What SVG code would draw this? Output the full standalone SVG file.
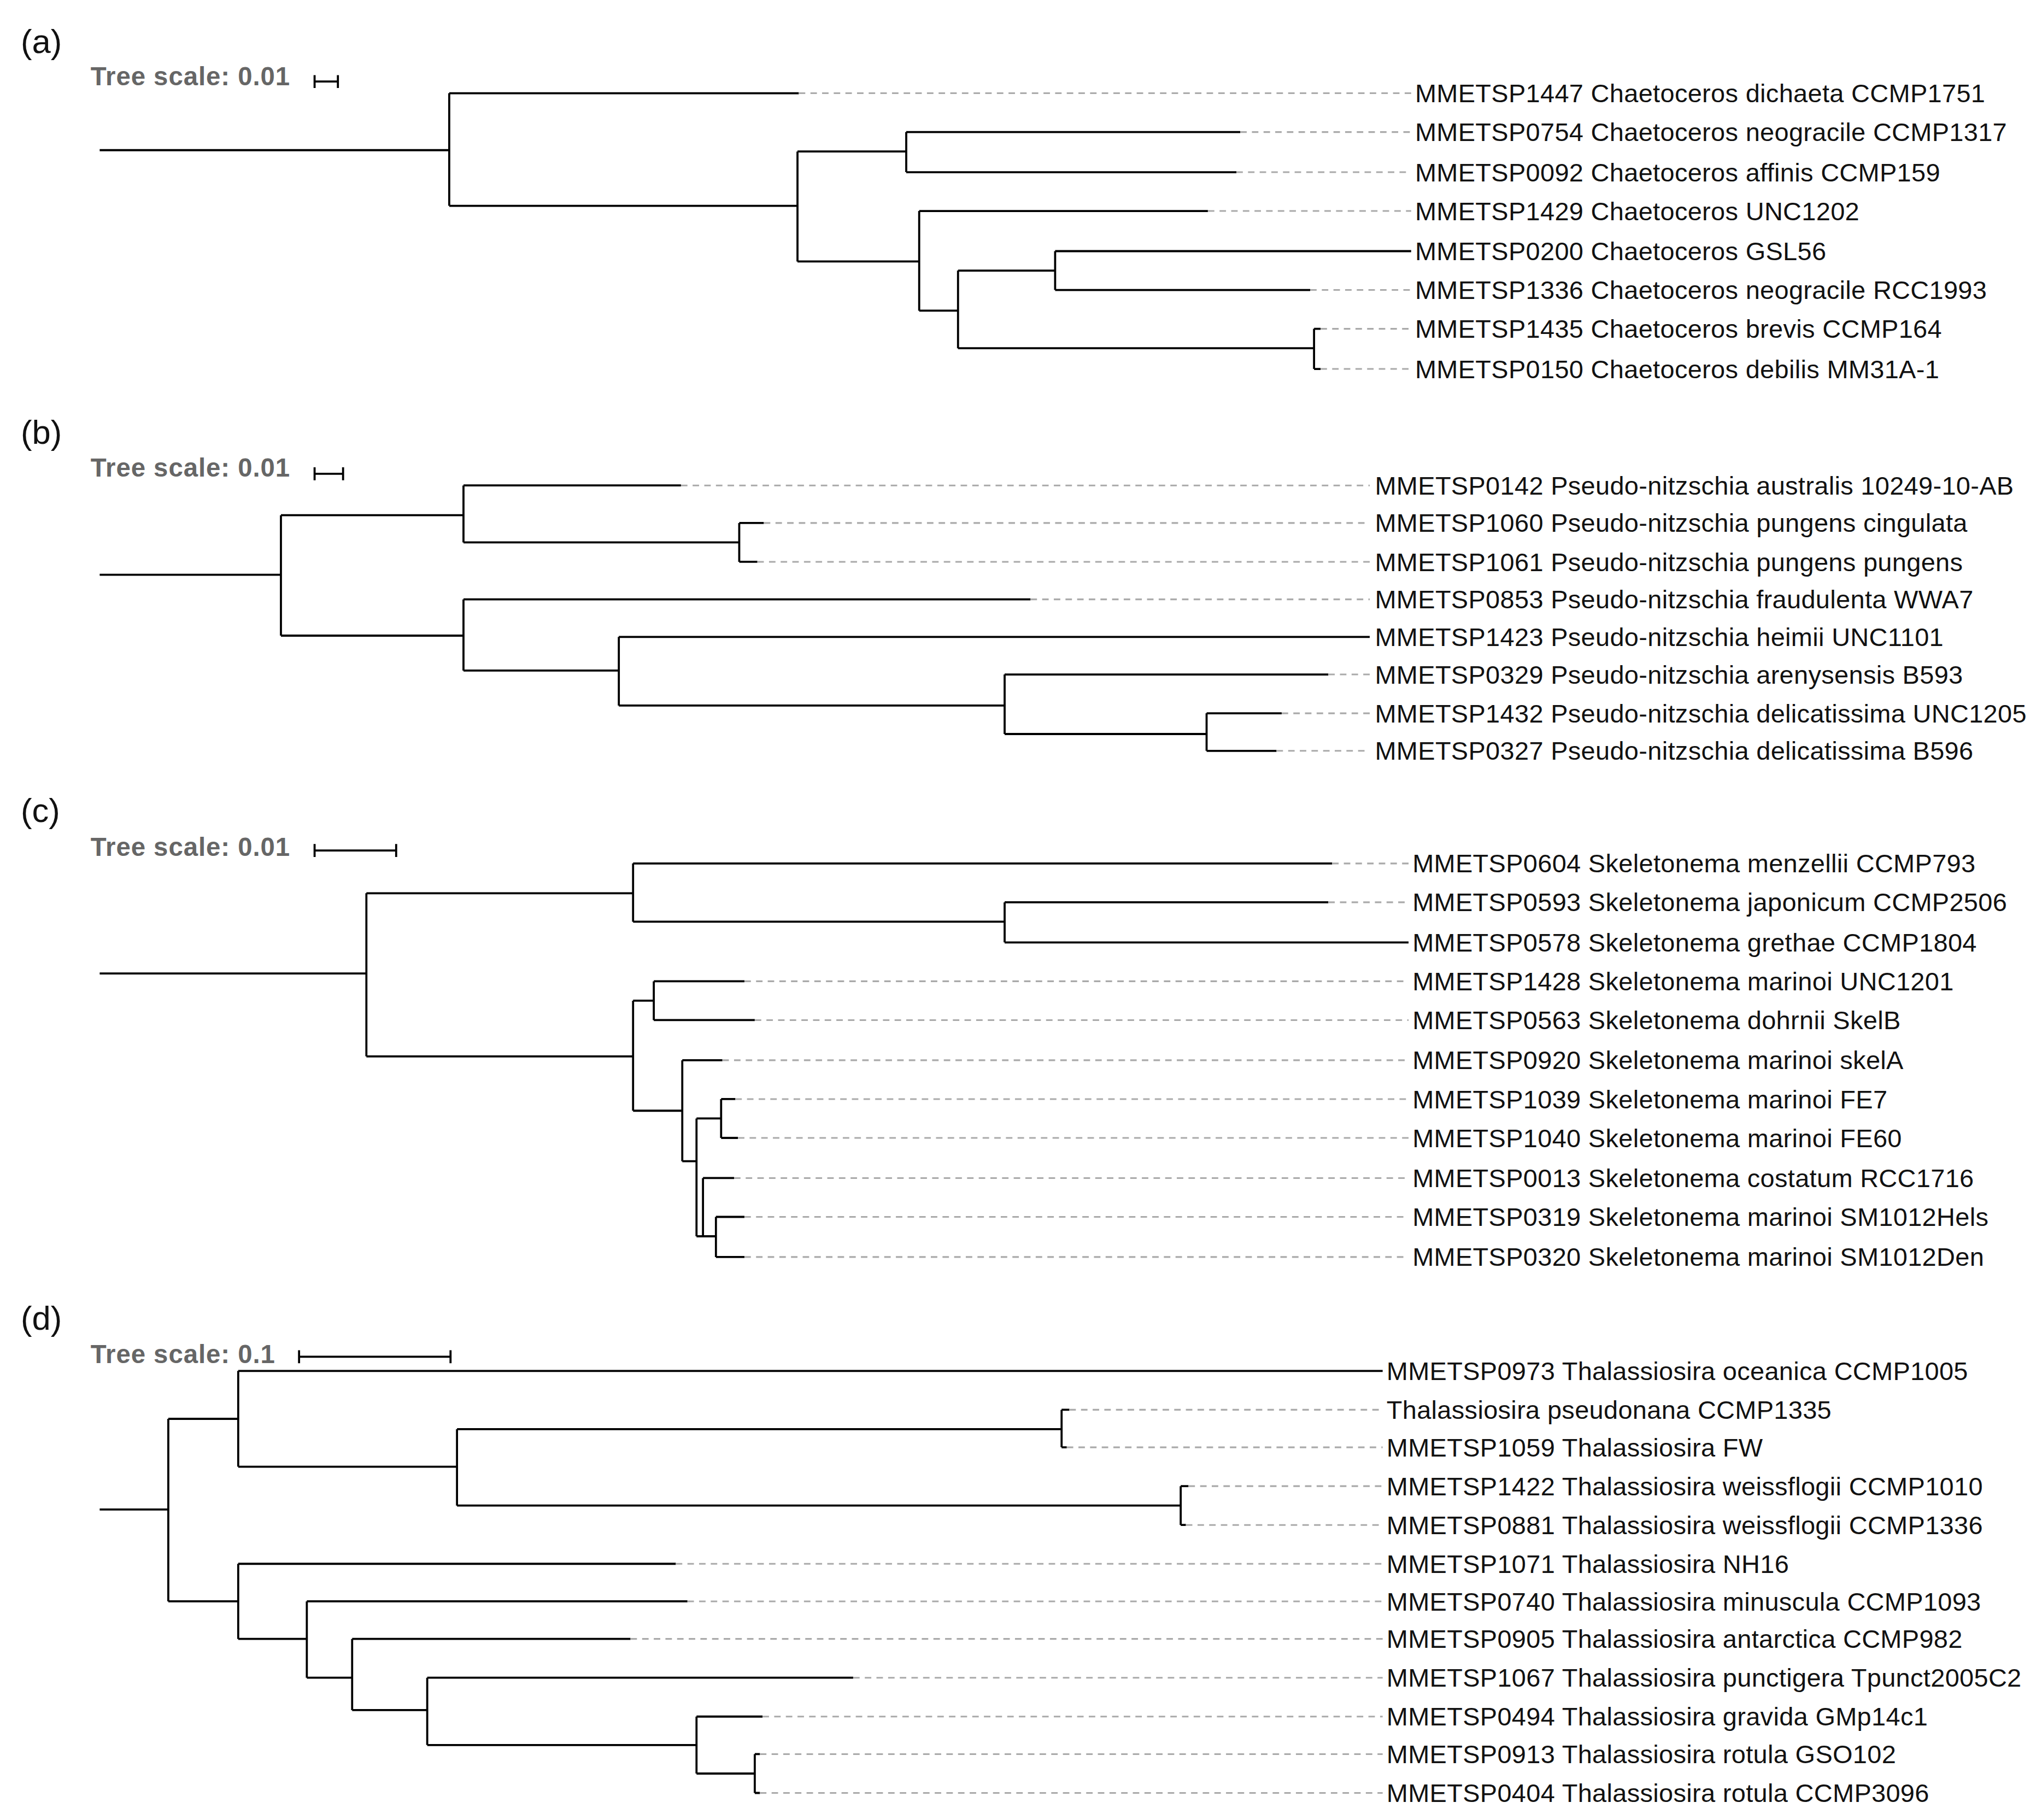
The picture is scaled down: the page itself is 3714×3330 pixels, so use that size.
<svg xmlns="http://www.w3.org/2000/svg" width="3714" height="3330" viewBox="0 0 3714 3330">
<style>
.t{font-family:"Liberation Sans",Arial,sans-serif;font-size:19.8px;letter-spacing:0.15px;fill:#111}
.p{font-family:"Liberation Sans",Arial,sans-serif;font-size:26px;fill:#111}
.s{font-family:"Liberation Sans",Arial,sans-serif;font-size:20px;font-weight:bold;letter-spacing:0.4px;fill:#666}
.br{fill:none;stroke:#000;stroke-width:1.6}
.d{fill:none;stroke:#aaa;stroke-width:1.3;stroke-dasharray:5 4}
</style>
<rect width="3714" height="3330" fill="#fff"/>
<g transform="scale(2.3686)">
<g id="labels">
<text class="p" x="16" y="41">(a)</text>
<text class="p" x="16" y="343">(b)</text>
<text class="p" x="16" y="635">(c)</text>
<text class="p" x="16" y="1027">(d)</text>
<text class="s" x="70" y="66">Tree scale: 0.01</text>
<text class="s" x="70" y="368">Tree scale: 0.01</text>
<text class="s" x="70" y="661">Tree scale: 0.01</text>
<text class="s" x="70" y="1053">Tree scale: 0.1</text>
<path class="br" d="M243 63H261M243 58V68M261 58V68M243 366H265M243 361V371M265 361V371M243 657H306M243 652V662M306 652V662M231 1048H348M231 1043V1053M348 1043V1053"/>
</g>
<g id="connectors">
<path class="br" d="M77 116H347M347 72V159M347 72H617M347 159H616M616 117V202M616 117H700M700 102V133M700 102H958M700 133H955M616 202H710M710 163V240M710 163H933M710 240H740M740 209V269M740 209H815M815 194V224M815 194H1090M815 224H1012M740 269H1015M1015 254V285M1015 254H1020M1015 285H1020"/>
<path class="br" d="M77 444H217M217 398V491M217 398H358M358 375V419M358 375H526M358 419H571M571 404V434M571 404H590M571 434H585M217 491H358M358 463V518M358 463H796M358 518H478M478 492V545M478 492H1058M478 545H776M776 521V567M776 521H1026M776 567H932M932 551V580M932 551H990M932 580H986"/>
<path class="br" d="M77 752H283M283 690V816M283 690H489M489 667V712M489 667H1029M489 712H776M776 697V728M776 697H1026M776 728H1088M283 816H489M489 773V858M489 773H505M505 758V788M505 758H575M505 788H583M489 858H527M527 819V897M527 819H558M527 897H538M538 864V955M538 864H557M557 849V879M557 849H568M557 879H570M538 955H543M543 910V955M543 910H567M543 955H553M553 940V971M553 940H575M553 971H575"/>
<path class="br" d="M77 1166H130M130 1096V1237M130 1096H184M184 1059V1133M184 1059H1068M184 1133H353M353 1104V1163M353 1104H820M820 1089V1118M820 1089H826M820 1118H824M353 1163H912M912 1148V1178M912 1148H918M912 1178H916M130 1237H184M184 1208V1266M184 1208H522M184 1266H237M237 1237V1296M237 1237H531M237 1296H272M272 1266V1321M272 1266H487M272 1321H330M330 1296V1348M330 1296H659M330 1348H538M538 1326V1370M538 1326H589M538 1370H583M583 1355V1385M583 1355H587M583 1385H587"/>
</g>
<g id="a1"><path class="d" d="M617 72H1090"/><text class="t" x="1093" y="79">MMETSP1447 Chaetoceros dichaeta CCMP1751</text></g>
<g id="a2"><path class="d" d="M958 102H1090"/><text class="t" x="1093" y="109">MMETSP0754 Chaetoceros neogracile CCMP1317</text></g>
<g id="a3"><path class="d" d="M955 133H1090"/><text class="t" x="1093" y="140">MMETSP0092 Chaetoceros affinis CCMP159</text></g>
<g id="a4"><path class="d" d="M933 163H1090"/><text class="t" x="1093" y="170">MMETSP1429 Chaetoceros UNC1202</text></g>
<g id="a5"><text class="t" x="1093" y="201">MMETSP0200 Chaetoceros GSL56</text></g>
<g id="a6"><path class="d" d="M1012 224H1090"/><text class="t" x="1093" y="231">MMETSP1336 Chaetoceros neogracile RCC1993</text></g>
<g id="a7"><path class="d" d="M1020 254H1090"/><text class="t" x="1093" y="261">MMETSP1435 Chaetoceros brevis CCMP164</text></g>
<g id="a8"><path class="d" d="M1020 285H1090"/><text class="t" x="1093" y="292">MMETSP0150 Chaetoceros debilis MM31A-1</text></g>
<g id="b1"><path class="d" d="M526 375H1058"/><text class="t" x="1062" y="382">MMETSP0142 Pseudo-nitzschia australis 10249-10-AB</text></g>
<g id="b2"><path class="d" d="M590 404H1058"/><text class="t" x="1062" y="411">MMETSP1060 Pseudo-nitzschia pungens cingulata</text></g>
<g id="b3"><path class="d" d="M585 434H1058"/><text class="t" x="1062" y="441">MMETSP1061 Pseudo-nitzschia pungens pungens</text></g>
<g id="b4"><path class="d" d="M796 463H1058"/><text class="t" x="1062" y="470">MMETSP0853 Pseudo-nitzschia fraudulenta WWA7</text></g>
<g id="b5"><text class="t" x="1062" y="499">MMETSP1423 Pseudo-nitzschia heimii UNC1101</text></g>
<g id="b6"><path class="d" d="M1026 521H1058"/><text class="t" x="1062" y="528">MMETSP0329 Pseudo-nitzschia arenysensis B593</text></g>
<g id="b7"><path class="d" d="M990 551H1058"/><text class="t" x="1062" y="558">MMETSP1432 Pseudo-nitzschia delicatissima UNC1205</text></g>
<g id="b8"><path class="d" d="M986 580H1058"/><text class="t" x="1062" y="587">MMETSP0327 Pseudo-nitzschia delicatissima B596</text></g>
<g id="c1"><path class="d" d="M1029 667H1088"/><text class="t" x="1091" y="674">MMETSP0604 Skeletonema menzellii CCMP793</text></g>
<g id="c2"><path class="d" d="M1026 697H1088"/><text class="t" x="1091" y="704">MMETSP0593 Skeletonema japonicum CCMP2506</text></g>
<g id="c3"><text class="t" x="1091" y="735">MMETSP0578 Skeletonema grethae CCMP1804</text></g>
<g id="c4"><path class="d" d="M575 758H1088"/><text class="t" x="1091" y="765">MMETSP1428 Skeletonema marinoi UNC1201</text></g>
<g id="c5"><path class="d" d="M583 788H1088"/><text class="t" x="1091" y="795">MMETSP0563 Skeletonema dohrnii SkelB</text></g>
<g id="c6"><path class="d" d="M558 819H1088"/><text class="t" x="1091" y="826">MMETSP0920 Skeletonema marinoi skelA</text></g>
<g id="c7"><path class="d" d="M568 849H1088"/><text class="t" x="1091" y="856">MMETSP1039 Skeletonema marinoi FE7</text></g>
<g id="c8"><path class="d" d="M570 879H1088"/><text class="t" x="1091" y="886">MMETSP1040 Skeletonema marinoi FE60</text></g>
<g id="c9"><path class="d" d="M567 910H1088"/><text class="t" x="1091" y="917">MMETSP0013 Skeletonema costatum RCC1716</text></g>
<g id="c10"><path class="d" d="M575 940H1088"/><text class="t" x="1091" y="947">MMETSP0319 Skeletonema marinoi SM1012Hels</text></g>
<g id="c11"><path class="d" d="M575 971H1088"/><text class="t" x="1091" y="978">MMETSP0320 Skeletonema marinoi SM1012Den</text></g>
<g id="d1"><text class="t" x="1071" y="1066">MMETSP0973 Thalassiosira oceanica CCMP1005</text></g>
<g id="d2"><path class="d" d="M826 1089H1068"/><text class="t" x="1071" y="1096">Thalassiosira pseudonana CCMP1335</text></g>
<g id="d3"><path class="d" d="M824 1118H1068"/><text class="t" x="1071" y="1125">MMETSP1059 Thalassiosira FW</text></g>
<g id="d4"><path class="d" d="M918 1148H1068"/><text class="t" x="1071" y="1155">MMETSP1422 Thalassiosira weissflogii CCMP1010</text></g>
<g id="d5"><path class="d" d="M916 1178H1068"/><text class="t" x="1071" y="1185">MMETSP0881 Thalassiosira weissflogii CCMP1336</text></g>
<g id="d6"><path class="d" d="M522 1208H1068"/><text class="t" x="1071" y="1215">MMETSP1071 Thalassiosira NH16</text></g>
<g id="d7"><path class="d" d="M531 1237H1068"/><text class="t" x="1071" y="1244">MMETSP0740 Thalassiosira minuscula CCMP1093</text></g>
<g id="d8"><path class="d" d="M487 1266H1068"/><text class="t" x="1071" y="1273">MMETSP0905 Thalassiosira antarctica CCMP982</text></g>
<g id="d9"><path class="d" d="M659 1296H1068"/><text class="t" x="1071" y="1303">MMETSP1067 Thalassiosira punctigera Tpunct2005C2</text></g>
<g id="d10"><path class="d" d="M589 1326H1068"/><text class="t" x="1071" y="1333">MMETSP0494 Thalassiosira gravida GMp14c1</text></g>
<g id="d11"><path class="d" d="M587 1355H1068"/><text class="t" x="1071" y="1362">MMETSP0913 Thalassiosira rotula GSO102</text></g>
<g id="d12"><path class="d" d="M587 1385H1068"/><text class="t" x="1071" y="1392">MMETSP0404 Thalassiosira rotula CCMP3096</text></g>
</g>
</svg>
